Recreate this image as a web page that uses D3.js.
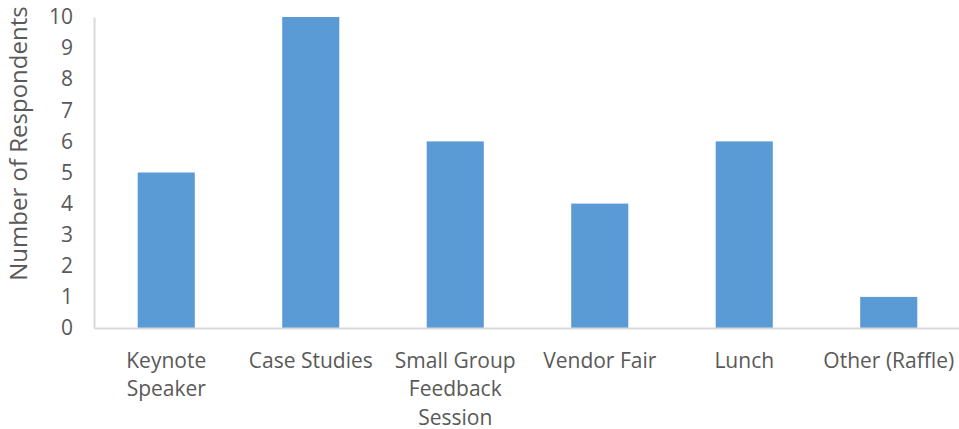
<!DOCTYPE html>
<html>
<head>
<meta charset="utf-8">
<script src="https://cdn.jsdelivr.net/npm/d3@7"></script>
<style>
  html, body { margin: 0; padding: 0; background: #fff; }
  svg { display: block; font-family: "Open Sans", Lato, sans-serif; }
</style>
</head>
<body>
<svg id="chart" width="959" height="429"></svg>
<script>
// Session ratings: respondents per category
const categories = [
  ["Keynote", "Speaker"],
  ["Case Studies"],
  ["Small Group", "Feedback", "Session"],
  ["Vendor Fair"],
  ["Lunch"],
  ["Other (Raffle)"]
];
const values = [5, 10, 6, 4, 6, 1];
const yTicks = [0, 1, 2, 3, 4, 5, 6, 7, 8, 9, 10];
const yTitle = "Number of Respondents";

const svg = d3.select("#chart");
const plotLeft = 94, plotRight = 961, plotTop = 17, plotBottom = 328;
const textColor = "#595959";

const x = d3.scaleBand()
  .domain(d3.range(categories.length))
  .range([plotLeft, plotRight])
  .padding(0);
const barW = x.bandwidth() * 0.395;

const y = d3.scaleLinear().domain([0, 10]).range([plotBottom, plotTop]);

// bars
svg.append("g").selectAll("rect")
  .data(values)
  .join("rect")
  .attr("x", (d, i) => x(i) + x.bandwidth() / 2 - barW / 2)
  .attr("y", d => y(d))
  .attr("width", barW)
  .attr("height", d => y(0) - y(d))
  .attr("fill", "#5b9bd5");

// y axis
const yAxis = svg.append("g")
  .attr("transform", `translate(${plotLeft},0)`)
  .call(d3.axisLeft(y).tickValues(yTicks).tickSize(0).tickPadding(21).tickFormat(d3.format("d")));
yAxis.select(".domain").attr("stroke", "#d9d9d9").attr("stroke-width", 2);
yAxis.selectAll("text")
  .attr("fill", textColor)
  .style("font-size", "21px")
  .style("font-family", "'Open Sans', Lato, sans-serif");

// x axis baseline
const xAxis = svg.append("g")
  .attr("transform", `translate(0,${plotBottom})`)
  .call(d3.axisBottom(x).tickSize(0).tickFormat(""));
xAxis.select(".domain").attr("stroke", "#d9d9d9").attr("stroke-width", 2);

// multi-line category labels
svg.append("g").selectAll("text")
  .data(categories)
  .join("text")
  .attr("text-anchor", "middle")
  .attr("fill", textColor)
  .style("font-size", "21px")
  .each(function(lines, i) {
    const t = d3.select(this);
    lines.forEach((ln, k) => {
      t.append("tspan")
        .attr("x", x(i) + x.bandwidth() / 2)
        .attr("y", 367.5 + k * 28.5)
        .text(ln);
    });
  });

// y axis title
svg.append("text")
  .attr("transform", "translate(27,143.5) rotate(-90)")
  .attr("text-anchor", "middle")
  .attr("fill", textColor)
  .style("font-size", "24px")
  .text(yTitle);
</script>
</body>
</html>
